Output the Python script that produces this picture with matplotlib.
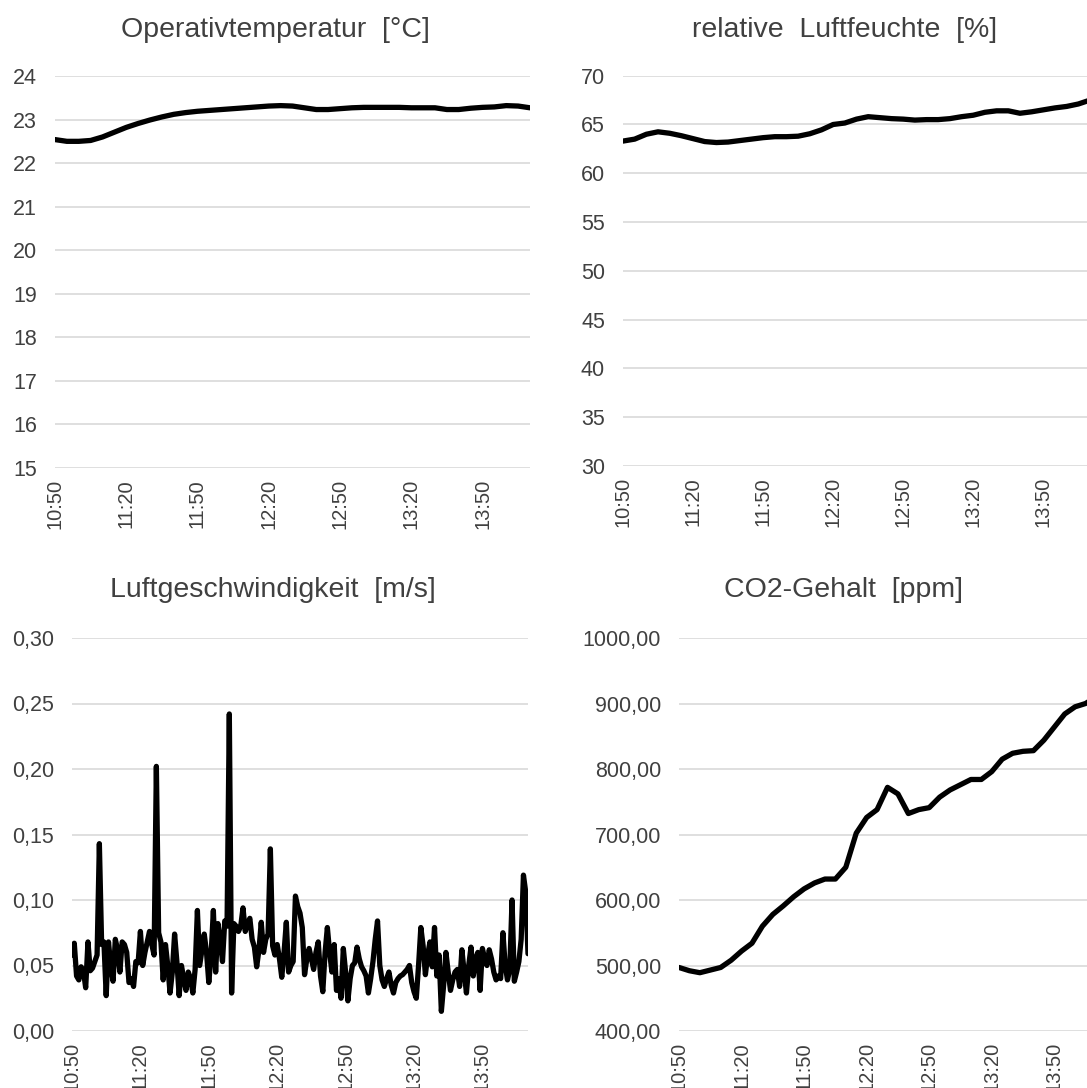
import numpy as np
import matplotlib
matplotlib.use("Agg")
import matplotlib.pyplot as plt
from matplotlib.ticker import FixedLocator, FuncFormatter

plt.rcParams["font.family"] = ["Liberation Sans", "DejaVu Sans"]

# ---------------------------------------
# Measurements (10:50 - 14:10)
# ---------------------------------------

# minutes after 10:50, 5-minute readings
minutes_5 = list(range(0, 201, 5))

temperature = [
    22.54, 22.50, 22.50, 22.52, 22.60, 22.71, 22.82, 22.91, 22.99, 23.06,
    23.12, 23.16, 23.19, 23.21, 23.23, 23.25, 23.27, 23.29, 23.31, 23.32,
    23.31, 23.27, 23.23, 23.23, 23.25, 23.27, 23.28, 23.28, 23.28, 23.28,
    23.27, 23.27, 23.27, 23.23, 23.23, 23.26, 23.28, 23.29, 23.32, 23.31,
    23.27,
]

humidity = [
    63.3, 63.5, 64.0, 64.25, 64.1, 63.85, 63.55, 63.25, 63.15, 63.2,
    63.35, 63.5, 63.65, 63.75, 63.75, 63.8, 64.05, 64.45, 65.0, 65.15,
    65.55, 65.8, 65.7, 65.6, 65.55, 65.45, 65.5, 65.5, 65.6, 65.8,
    65.95, 66.25, 66.4, 66.4, 66.15, 66.3, 66.5, 66.7, 66.85, 67.1,
    67.5,
]

co2 = [
    497, 492, 489, 493, 497, 508, 522, 534, 560, 578,
    591, 605, 617, 626, 632, 632, 650, 702, 726, 738,
    772, 762, 732, 738, 741, 757, 768, 776, 784, 784,
    796, 815, 824, 827, 828, 844, 864, 884, 895, 900,
    910,
]

# minutes after 10:50, 1-minute readings
minutes_1 = list(range(0, 201))

air_speed = [
    0.058, 0.067, 0.042, 0.039, 0.049, 0.046, 0.033, 0.068, 0.046, 0.048,
    0.053, 0.058, 0.143, 0.066, 0.068, 0.027, 0.068, 0.050, 0.038, 0.070,
    0.062, 0.045, 0.068, 0.066, 0.060, 0.037, 0.040, 0.034, 0.053, 0.052,
    0.076, 0.050, 0.060, 0.068, 0.076, 0.066, 0.058, 0.202, 0.075, 0.068,
    0.039, 0.066, 0.050, 0.029, 0.045, 0.074, 0.053, 0.027, 0.050, 0.040,
    0.031, 0.045, 0.040, 0.029, 0.047, 0.092, 0.050, 0.062, 0.074, 0.060,
    0.037, 0.058, 0.092, 0.045, 0.082, 0.070, 0.053, 0.084, 0.080, 0.242,
    0.029, 0.082, 0.080, 0.076, 0.080, 0.094, 0.076, 0.082, 0.086, 0.070,
    0.064, 0.049, 0.062, 0.083, 0.060, 0.070, 0.074, 0.139, 0.065, 0.058,
    0.066, 0.055, 0.041, 0.060, 0.083, 0.045, 0.050, 0.053, 0.103, 0.095,
    0.090, 0.079, 0.043, 0.055, 0.063, 0.055, 0.047, 0.060, 0.068, 0.042,
    0.030, 0.060, 0.079, 0.060, 0.045, 0.066, 0.031, 0.040, 0.025, 0.063,
    0.045, 0.023, 0.040, 0.050, 0.052, 0.064, 0.055, 0.049, 0.046, 0.042,
    0.029, 0.040, 0.053, 0.070, 0.084, 0.050, 0.039, 0.034, 0.040, 0.045,
    0.035, 0.029, 0.037, 0.040, 0.042, 0.043, 0.045, 0.047, 0.050, 0.037,
    0.030, 0.025, 0.050, 0.079, 0.065, 0.043, 0.058, 0.068, 0.049, 0.079,
    0.042, 0.058, 0.015, 0.035, 0.060, 0.045, 0.031, 0.039, 0.045, 0.047,
    0.034, 0.062, 0.045, 0.029, 0.050, 0.064, 0.042, 0.055, 0.060, 0.031,
    0.063, 0.055, 0.050, 0.062, 0.055, 0.045, 0.039, 0.042, 0.040, 0.075,
    0.050, 0.039, 0.047, 0.100, 0.038, 0.045, 0.053, 0.070, 0.119, 0.106,
    0.059,
]

# x-axis labels every 30 minutes
tick_minutes = [0, 30, 60, 90, 120, 150, 180]
tick_labels = ["10:50", "11:20", "11:50", "12:20", "12:50", "13:20", "13:50"]

# ---------------------------------------
# Figure layout
# ---------------------------------------

W, H = 1087, 1088
fig = plt.figure(figsize=(W / 100, H / 100), dpi=100)
fig.patch.set_facecolor("white")

TEXT = "#404040"
GRID = "#d9d9d9"


def box(left, right, top, bottom):
    return [left / W, 1 - bottom / H, (right - left) / W, (bottom - top) / H]


def panel(rect, x, y, title, title_xy, ylim, ystep, fmt):
    ax = fig.add_axes(rect)
    ax.plot(x, y, color="black", lw=3.8, solid_joinstyle="round",
            solid_capstyle="round")
    ax.set_xlim(0, 200)
    ax.set_ylim(*ylim)
    ax.yaxis.set_major_locator(FixedLocator(np.arange(ylim[0], ylim[1] + ystep / 2, ystep)))
    ax.yaxis.set_major_formatter(FuncFormatter(fmt))
    ax.set_xticks(tick_minutes)
    ax.set_xticklabels(tick_labels, rotation=90)
    ax.grid(axis="y", color=GRID, lw=1.2)
    ax.set_axisbelow(True)
    for s in ax.spines.values():
        s.set_visible(False)
    ax.tick_params(axis="y", length=0, pad=13, labelsize=15.5, labelcolor=TEXT)
    ax.tick_params(axis="x", length=0, pad=8, labelsize=14.5, labelcolor=TEXT)
    fig.text(title_xy[0] / W, 1 - title_xy[1] / H, title, ha="center",
             va="center", fontsize=20.5, color=TEXT)
    return ax


panel(box(55, 530, 76, 468), minutes_5, temperature,
      "Operativtemperatur  [°C]", (275, 30), (15, 24), 1,
      lambda v, p: f"{v:.0f}")

panel(box(623, 1090, 75.7, 466), minutes_5, humidity,
      "relative  Luftfeuchte  [%]", (845, 30), (30, 70), 5,
      lambda v, p: f"{v:.0f}")

panel(box(72, 528, 638, 1031), minutes_1, air_speed,
      "Luftgeschwindigkeit  [m/s]", (273, 590), (0, 0.30), 0.05,
      lambda v, p: f"{v:.2f}".replace(".", ","))

panel(box(679, 1096, 638, 1031), minutes_5, co2,
      "CO2-Gehalt  [ppm]", (844, 590), (400, 1000), 100,
      lambda v, p: f"{v:.2f}".replace(".", ","))

plt.savefig("out.png", dpi=100, facecolor="white")
